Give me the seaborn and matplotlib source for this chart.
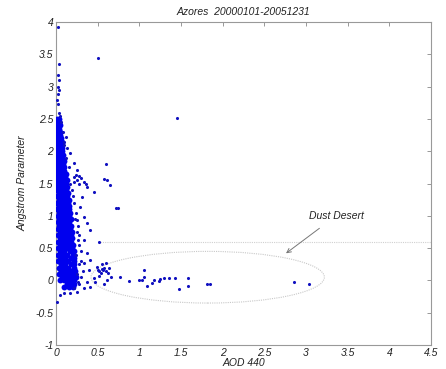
import numpy as np
import pandas as pd
import matplotlib
matplotlib.use("Agg")
import matplotlib.pyplot as plt
from matplotlib.patches import Ellipse
import seaborn as sns

# dense core of the cloud: one row of AOD values per Angstrom level
core_rows_ang = [2.5, 2.45, 2.4, 2.35, 2.3, 2.25, 2.2, 2.15, 2.1, 2.05, 2.0, 1.95,
                 1.9, 1.85, 1.8, 1.75, 1.7, 1.65, 1.6, 1.55, 1.5, 1.45, 1.4, 1.35,
                 1.3, 1.25, 1.2, 1.15, 1.1, 1.05, 1.0, 0.95, 0.9, 0.85, 0.8, 0.75,
                 0.7, 0.65, 0.6, 0.55, 0.5, 0.45, 0.4, 0.35, 0.3, 0.25, 0.2, 0.15,
                 0.1, 0.05, 0.0, -0.05, -0.1]
core_rows_aod = [
    [0.01, 0.03],
    [0.02, 0.04],
    [0.01, 0.03, 0.05],
    [0.02, 0.04],
    [0.01, 0.03, 0.05],
    [0.02, 0.045],
    [0.01, 0.03, 0.06],
    [0.02, 0.045, 0.07],
    [0.01, 0.03, 0.06],
    [0.02, 0.05, 0.075],
    [0.01, 0.04, 0.07],
    [0.025, 0.055, 0.08],
    [0.01, 0.04, 0.07],
    [0.025, 0.06, 0.09],
    [0.01, 0.04, 0.08],
    [0.025, 0.06, 0.09],
    [0.01, 0.04, 0.08, 0.10],
    [0.025, 0.06, 0.095, 0.12],
    [0.01, 0.04, 0.08, 0.11],
    [0.025, 0.06, 0.10, 0.13],
    [0.01, 0.04, 0.08, 0.12],
    [0.025, 0.06, 0.10, 0.13],
    [0.01, 0.04, 0.08, 0.12],
    [0.03, 0.07, 0.11, 0.14],
    [0.01, 0.05, 0.09, 0.13],
    [0.03, 0.07, 0.115, 0.15],
    [0.01, 0.05, 0.09, 0.14],
    [0.03, 0.075, 0.12, 0.16],
    [0.01, 0.05, 0.10, 0.15],
    [0.035, 0.08, 0.13, 0.17],
    [0.02, 0.06, 0.11, 0.16],
    [0.04, 0.085, 0.135, 0.175],
    [0.02, 0.06, 0.11, 0.16],
    [0.04, 0.085, 0.14, 0.18],
    [0.02, 0.06, 0.11, 0.17],
    [0.045, 0.095, 0.15, 0.19],
    [0.02, 0.07, 0.12, 0.18],
    [0.045, 0.095, 0.15, 0.195],
    [0.02, 0.07, 0.12, 0.18],
    [0.045, 0.10, 0.16, 0.20],
    [0.02, 0.07, 0.13, 0.19],
    [0.045, 0.10, 0.165, 0.21],
    [0.02, 0.07, 0.13, 0.20],
    [0.05, 0.11, 0.175, 0.22],
    [0.02, 0.08, 0.14, 0.21],
    [0.055, 0.11, 0.175, 0.22],
    [0.03, 0.08, 0.14, 0.21],
    [0.06, 0.12, 0.185, 0.23],
    [0.03, 0.09, 0.15, 0.22],
    [0.075, 0.13, 0.19, 0.24],
    [0.05, 0.10, 0.16, 0.22],
    [0.13, 0.18, 0.22],
    [0.10, 0.16, 0.20],
]

# scattered single observations
scatter_aod = [0.02, 0.03, 0.02, 0.03, 0.02, 0.03, 0.02, 0.01, 0.02, 0.03, 0.05, 0.06,
               0.08, 0.10, 0.12, 0.13, 0.17, 0.50, 1.45, 0.60,
               0.21, 0.24, 0.27, 0.25, 0.30, 0.33, 0.22, 0.28, 0.36,
               0.57, 0.61, 0.65, 0.72, 0.74,
               0.21, 0.25, 0.37, 0.45, 0.31, 0.29, 0.33, 0.25, 0.37,
               0.41, 0.33, 0.51, 0.37, 0.41, 0.33, 0.39, 0.49, 0.50, 0.52, 0.54, 0.56,
               0.52, 0.45, 0.37, 0.41, 0.33, 0.25, 0.17, 0.09, 0.05, 0.61, 0.58, 0.66,
               0.77, 0.47, 0.01,
               0.55, 0.58, 0.60, 0.62, 0.55, 0.60, 0.64,
               0.20, 0.22, 0.24, 0.26, 0.28, 0.27, 0.30, 0.30, 0.32, 0.30, 0.28, 0.22,
               0.19, 0.17, 0.15, 0.12, 0.10, 0.23, 0.25, 0.26, 0.24, 0.27, 0.25, 0.26,
               0.87, 0.99, 1.03, 1.06, 1.06, 1.15, 1.17, 1.09, 1.23, 1.25, 1.29,
               1.35, 1.43, 1.47, 1.58, 1.58, 1.81, 1.85, 2.86, 3.04]
scatter_ang = [3.93, 3.35, 3.18, 3.10, 3.00, 2.95, 2.88, 2.80, 2.73, 2.60, 2.55, 2.45,
               2.30, 2.15, 2.22, 2.05, 1.97, 3.45, 2.52, 1.80,
               1.60, 1.63, 1.62, 1.55, 1.58, 1.52, 1.52, 1.50, 1.50,
               1.57, 1.55, 1.48, 1.12, 1.12,
               1.82, 1.71, 1.45, 1.37, 1.29, 1.14, 0.98, 0.93, 0.89,
               0.78, 0.63, 0.59, 0.43, 0.32, 0.27, 0.16, 0.21, 0.16, 0.14, 0.11, 0.16,
               0.07, 0.04, -0.02, -0.10, -0.12, -0.18, -0.20, -0.19, -0.23, 0.00, -0.05, 0.05,
               0.05, -0.03, -0.33,
               0.25, 0.20, 0.15, 0.12, 0.17, 0.27, 0.20,
               1.30, 1.20, 1.05, 0.85, 0.70, 0.55, 0.45, 0.30, 0.15, 0.05, -0.05, -0.12,
               1.40, 1.50, 1.75, 1.90, 2.10, 0.95, 0.75, 0.62, 0.40, 0.25, 0.10, -0.02,
               -0.01, 0.00, 0.00, 0.16, 0.05, -0.04, 0.00, -0.09, -0.01, 0.02, 0.04,
               0.04, 0.04, -0.13, 0.04, -0.09, -0.06, -0.06, -0.03, -0.06]

x_ticks = [0, 0.5, 1, 1.5, 2, 2.5, 3, 3.5, 4, 4.5]
y_ticks = [-1, -0.5, 0, 0.5, 1, 1.5, 2, 2.5, 3, 3.5, 4]
x_tick_labels = ["0", "0.5", "1", "1.5", "2", "2.5", "3", "3.5", "4", "4.5"]
y_tick_labels = ["-1", "-0.5", "0", "0.5", "1", "1.5", "2", "2.5", "3", "3.5", "4"]

core = pd.DataFrame({
    "aod": [x for row in core_rows_aod for x in row],
    "ang": [a for a, row in zip(core_rows_ang, core_rows_aod) for _ in row],
})
loose = pd.DataFrame({"aod": scatter_aod, "ang": scatter_ang})

sns.set_style("white")
plt.rcParams["font.family"] = ["Liberation Sans", "DejaVu Sans"]
plt.rcParams["font.style"] = "italic"

fig = plt.figure(figsize=(4.46, 3.69), dpi=100)
ax = fig.add_axes([0.1256, 0.065, 0.8408, 0.875])

sns.scatterplot(data=core, x="aod", y="ang", ax=ax, color="#0000ee", s=18,
                linewidth=0, marker="o", legend=False, zorder=3)
sns.scatterplot(data=loose, x="aod", y="ang", ax=ax, color="#1010c0", s=5,
                linewidth=0, marker="o", legend=False, zorder=3)

# dust desert marking
ax.plot([0.5, 4.5], [0.6, 0.6], color="#d0d0d0", lw=0.8, ls=(0, (1, 1)), zorder=1)
ax.add_patch(Ellipse((1.82, 0.05), 2.8, 0.8, fill=False, ec="#c8c8c8", lw=0.8,
                     ls=(0, (1, 1)), zorder=1))
ax.annotate("Dust Desert", xy=(2.76, 0.42), xytext=(3.36, 1.0), fontsize=7.5,
            ha="center", va="center", color="#222222",
            arrowprops=dict(arrowstyle="->", color="#777777", lw=0.7,
                            shrinkA=5, shrinkB=0))

ax.set_xlim(0, 4.5)
ax.set_ylim(-1, 4)
ax.set_xticks(x_ticks)
ax.set_xticklabels(x_tick_labels)
ax.set_yticks(y_ticks)
ax.set_yticklabels(y_tick_labels)
ax.tick_params(direction="in", length=3, width=0.6, color="#888888", labelsize=7.5,
               labelcolor="#222222", top=True, right=True, pad=2)
for s in ax.spines.values():
    s.set_color("#999999")
    s.set_linewidth(0.8)

ax.set_xlabel("AOD 440", fontsize=7.5, labelpad=0, color="#222222")
ax.set_ylabel("Angstrom Parameter", fontsize=7.5, labelpad=6, color="#222222")
ax.set_title("Azores  20000101-20051231", fontsize=7.5, pad=5, color="#222222")

fig.savefig("out.png", dpi=100)
